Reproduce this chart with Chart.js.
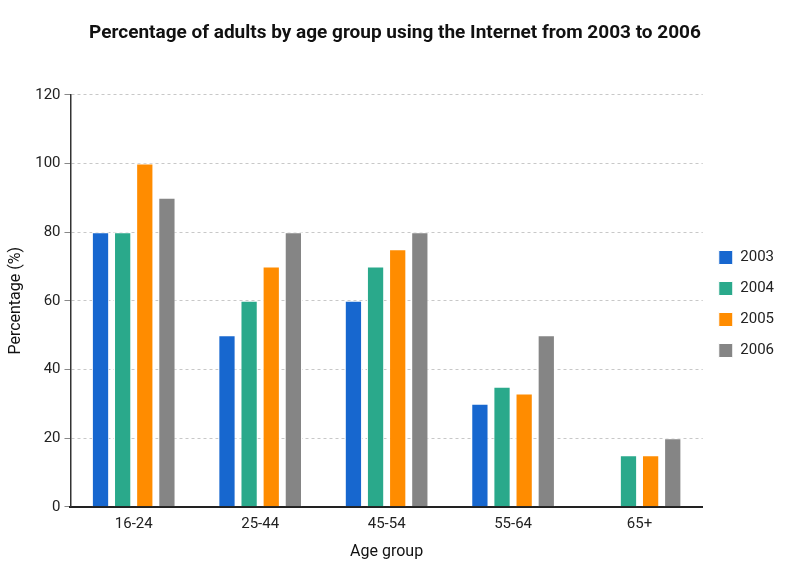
<!DOCTYPE html>
<html>
<head>
<meta charset="utf-8">
<script src="https://cdn.jsdelivr.net/npm/chart.js@4.4.0/dist/chart.umd.min.js"></script>
<style>
  html, body { margin: 0; padding: 0; background: #fff; }
  #wrap { width: 800px; height: 564px; }
</style>
</head>
<body>
<div id="wrap"><canvas id="chart" width="800" height="564"></canvas></div>
<script>
// Age groups on the x axis
const ageGroups = ['16-24', '25-44', '45-54', '55-64', '65+'];

// Percentage of adults online, one array per year
const y2003 = [80, 50, 60, 30, null];
const y2004 = [80, 60, 70, 35, 15];
const y2005 = [100, 70, 75, 33, 15];
const y2006 = [90, 80, 80, 50, 20];

const yearLabels = ['2003', '2004', '2005', '2006'];
const yearColors = ['#1767cf', '#2aa98b', '#ff8c00', '#858585'];

const fontFamily = "'Roboto', sans-serif";

const seriesValues = [y2003, y2004, y2005, y2006];

new Chart(document.getElementById('chart'), {
    type: 'bar',
    data: {
        labels: ageGroups,
        datasets: seriesValues.map((vals, i) => ({
            label: yearLabels[i],
            data: vals,
            backgroundColor: yearColors[i],
            borderColor: '#ffffff',
            borderWidth: 1,
            barPercentage: 0.78,
            categoryPercentage: 0.7
        }))
    },
    options: {
        responsive: false,
        animation: false,
        layout: { padding: { left: 6, right: 16, top: 12, bottom: 2 } },
        plugins: {
            title: {
                display: true,
                text: 'Percentage of adults by age group using the Internet from 2003 to 2006',
                color: '#111',
                font: { family: fontFamily, size: 19, weight: 'bold' },
                padding: { top: 10, bottom: 50 }
            },
            legend: {
                position: 'right',
                title: { display: true, text: ' ', font: { size: 10 }, padding: { top: 0, bottom: 22 } },
                labels: {
                    color: '#222',
                    font: { family: fontFamily, size: 15 },
                    boxWidth: 14,
                    boxHeight: 14,
                    padding: 16
                }
            },
            tooltip: { enabled: false }
        },
        scales: {
            x: {
                grid: { display: false, drawTicks: false },
                border: { color: '#222', width: 2 },
                ticks: { color: '#222', font: { family: fontFamily, size: 15 }, padding: 8 },
                title: {
                    display: true,
                    text: 'Age group',
                    color: '#111',
                    font: { family: fontFamily, size: 16 },
                    padding: { top: 2, bottom: 0 }
                }
            },
            y: {
                min: 0,
                max: 120,
                ticks: { stepSize: 20, color: '#222', font: { family: fontFamily, size: 15 }, padding: 4 },
                grid: { color: '#c8c8c8', tickColor: '#888', tickLength: 6, tickBorderDash: [] },
                border: { color: '#333', width: 1.5, dash: [3, 3] },
                title: {
                    display: true,
                    text: 'Percentage (%)',
                    color: '#111',
                    font: { family: fontFamily, size: 16 },
                    padding: { top: 0, bottom: 6 }
                }
            }
        }
    }
});
</script>
</body>
</html>
